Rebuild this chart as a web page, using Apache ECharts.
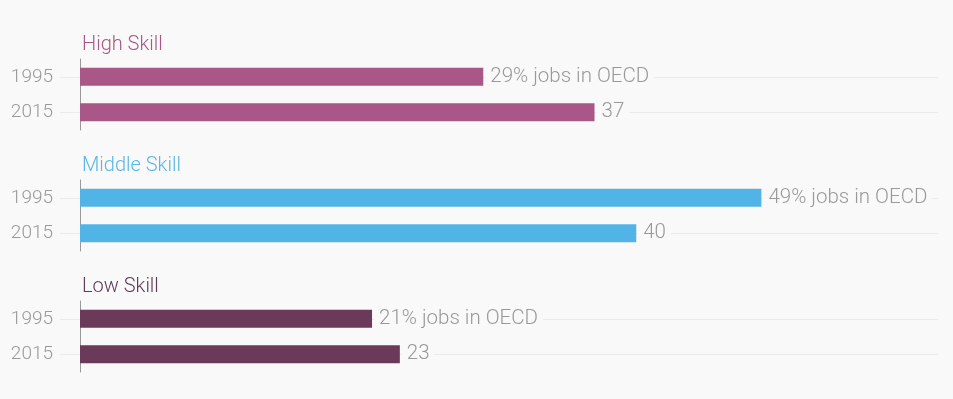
<!DOCTYPE html>
<html><head><meta charset="utf-8">
<script src="https://cdn.jsdelivr.net/npm/echarts@6/dist/echarts.min.js"></script>
<style>html,body{margin:0;padding:0;background:#f9f9f9;}#c{width:953px;height:399px;}</style>
</head><body><div id="c"></div>
<script>
const groups = ['High Skill', 'Middle Skill', 'Low Skill'];
const years = ['1995', '2015'];
const highValues = [29, 37];
const middleValues = [49, 40];
const lowValues = [21, 23];
const groupColors = ['#a85787', '#52b3e6', '#6b3a59'];
const titleColors = ['#a85787', '#5ab6e6', '#5e3a55'];
const allValues = [highValues, middleValues, lowValues];

const chart = echarts.init(document.getElementById('c'));
const font = 'Roboto';
const tops = [59, 180, 301];
const grid = [], xAxis = [], yAxis = [], series = [], title = [];
groups.forEach((g, i) => {
  grid.push({left: 80, width: 858, top: tops[i], height: 71});
  xAxis.push({gridIndex: i, type: 'value', min: 0, max: 61.7, show: false});
  yAxis.push({
    gridIndex: i, type: 'category', data: years, inverse: true,
    axisLine: {show: true, lineStyle: {color: '#999', width: 1}},
    axisTick: {show: true, alignWithLabel: true, length: 20, inside: false, lineStyle: {color: '#ebebeb'}},
    axisLabel: {margin: 27, color: '#999', fontFamily: font, fontWeight: 300, fontSize: 19, padding: [2, 0, 0, 0]}
  });
  title.push({text: g, left: 77, top: tops[i] - 29, textStyle: {color: titleColors[i], fontFamily: font, fontWeight: 300, fontSize: 20}});
  series.push({
    type: 'bar', xAxisIndex: i, yAxisIndex: i, data: allValues[i],
    barWidth: 18, itemStyle: {color: groupColors[i]},
    label: {
      show: true, position: 'right', distance: 2,
      color: '#999', fontFamily: font, fontWeight: 300, fontSize: 20.5,
      backgroundColor: '#f9f9f9', padding: [2, 5, 0, 5],
      formatter: p => p.dataIndex === 0 ? p.value + '% jobs in OECD' : String(p.value)
    },
    markLine: {
      silent: true, symbol: 'none', z: 1,
      label: {show: false},
      lineStyle: {color: '#ebebeb', type: 'solid', width: 1},
      data: years.map(y => ({yAxis: y}))
    },
    z: 3
  });
});
chart.setOption({backgroundColor: '#f9f9f9', animation: false, title, grid, xAxis, yAxis, series});
</script></body></html>
